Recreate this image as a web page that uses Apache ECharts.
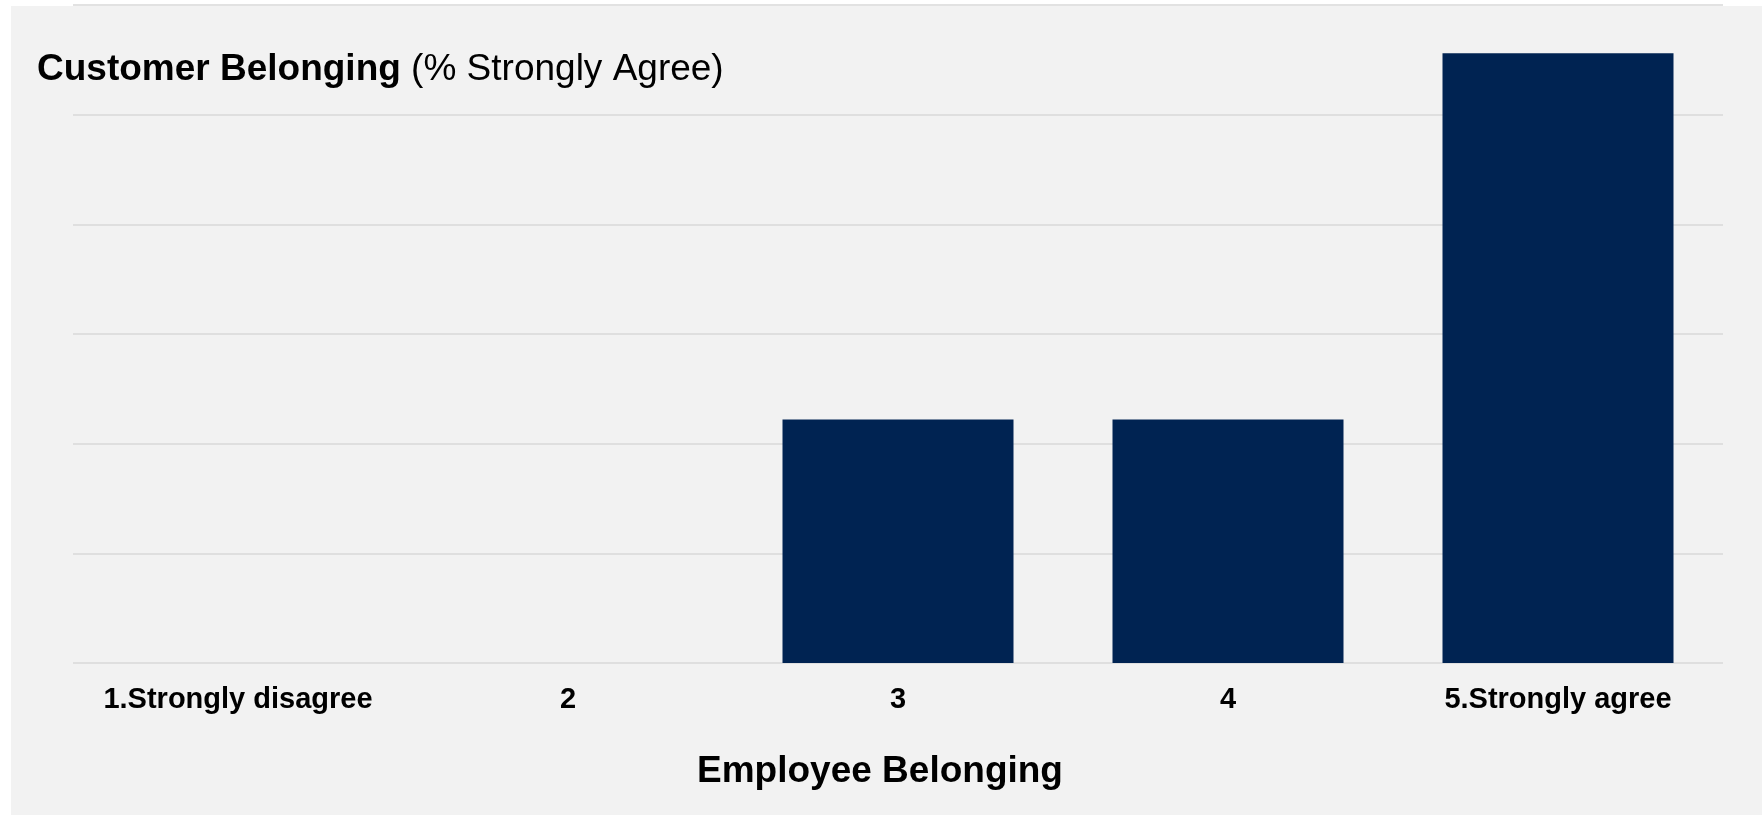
<!DOCTYPE html>
<html>
<head>
<meta charset="UTF-8">
<title>Customer Belonging</title>
<script src="https://cdn.jsdelivr.net/npm/echarts@6/dist/echarts.min.js"></script>
<style>
    html, body { margin: 0; padding: 0; background: #ffffff; }
    #bg { position: absolute; left: 11px; top: 6px; width: 1751px; height: 809px; background: #f2f2f2; }
    #container { position: absolute; left: 0; top: 0; width: 1762px; height: 815px; }
</style>
</head>
<body>
    <div id="bg"></div>
    <div id="container"></div>
    <script>
    // categories and values (% strongly agree)
    var categories = ['1.Strongly disagree', '2', '3', '4', '5.Strongly agree'];
    var values = [0, 0, 22.2, 22.2, 55.6];

    var mychart = echarts.init(document.getElementById('container'));
    var font = '"Liberation Sans", Arial, sans-serif';

    var option = {
        backgroundColor: 'transparent',
        animation: false,
        title: {
            left: 37,
            top: 48,
            padding: 0,
            text: '{b|Customer Belonging}{n| (% Strongly Agree)}',
            textStyle: {
                rich: {
                    b: { fontFamily: font, fontSize: 37, fontWeight: 'bold', color: '#000', lineHeight: 44 },
                    n: { fontFamily: font, fontSize: 37, fontWeight: 'normal', color: '#000', lineHeight: 44 }
                }
            }
        },
        grid: { left: 73, right: 39, top: 5, bottom: 152 },
        xAxis: {
            type: 'category',
            data: categories,
            name: 'Employee Belonging',
            nameLocation: 'middle',
            nameGap: 89,
            nameTextStyle: {
                fontFamily: font, fontSize: 37, fontWeight: 'bold', color: '#000',
                lineHeight: 40, padding: [0, 36, 0, 0]
            },
            axisLine: { show: false },
            axisTick: { show: false },
            axisLabel: {
                fontFamily: font, fontSize: 29, fontWeight: 'bold', color: '#000',
                margin: 22, interval: 0
            }
        },
        yAxis: {
            type: 'value',
            min: 0,
            max: 60,
            interval: 10,
            axisLabel: { show: false },
            axisLine: { show: false },
            axisTick: { show: false },
            splitLine: { lineStyle: { color: '#d9d9d9', width: 1.5 } }
        },
        series: [{
            type: 'bar',
            data: values,
            barWidth: '70%',
            itemStyle: { color: '#002352' }
        }]
    };

    mychart.setOption(option);
    </script>
</body>
</html>
